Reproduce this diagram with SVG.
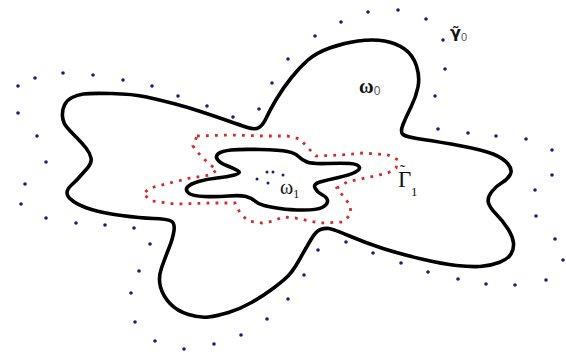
<svg xmlns="http://www.w3.org/2000/svg" width="566" height="362" viewBox="0 0 566 362">
<style>
.curve{fill:none;stroke:#000;stroke-width:3.6;stroke-linejoin:round}
.red{fill:none;stroke:#d42a2a;stroke-width:2.8;stroke-dasharray:2.8 6.2}
.dot{fill:#1c1c78}
.lbl{font-family:"Liberation Serif","Times New Roman",serif;fill:#111}
.sub{font-family:"Liberation Sans",Arial,sans-serif;fill:#555}
</style>
<rect width="566" height="362" fill="#fff"/>
<g id="omega0-boundary">
<path class="curve" d="M64.5,105 Q67,100 72,97.5 Q77,95 83.5,94 Q90,93 111.5,93.5 Q133,94 146.5,97 Q160,100 173.5,103.5 Q187,107 202,112 Q217,117 228.5,121 Q240,125 247.5,127.5 Q255,130 259,127.5 Q263,125 266.5,117.5 Q270,110 276.5,99 Q283,88 291.5,77.5 Q300,67 308,60 Q316,53 329.5,48 Q343,43 358,41 Q373,39 384.5,41 Q396,43 404.5,49 Q413,55 416.5,66 Q420,77 418,87 Q416,97 411,107 Q406,117 403,124.5 Q400,132 403,134.5 Q406,137 423,139.5 Q440,142 461.5,146 Q483,150 493,154 Q503,158 508,164 Q513,170 510,175 Q507,180 501.5,183 Q496,186 491.5,192 Q487,198 488.5,203 Q490,208 496.5,214.5 Q503,221 508,229 Q513,237 513.5,243 Q514,249 511,254 Q508,259 499,262.5 Q490,266 480,266.5 Q470,267 456.5,265.5 Q443,264 421.5,259 Q400,254 383,248.5 Q366,243 349.5,236 Q333,229 329,228.5 Q325,228 320.5,229.5 Q316,231 311,239.5 Q306,248 299.5,259.5 Q293,271 288,276 Q283,281 273,288.5 Q263,296 251.5,302.5 Q240,309 228.5,312.5 Q217,316 208.5,317 Q200,318 188.5,314.5 Q177,311 170,303.5 Q163,296 160.5,287 Q158,278 161.5,268 Q165,258 169,248 Q173,238 174,230.5 Q175,223 171,221 Q167,219 153.5,218.5 Q140,218 121.5,215.5 Q103,213 91.5,209.5 Q80,206 73.5,201.5 Q67,197 67,193 Q67,189 71.5,185 Q76,181 79.5,177 Q83,173 87.5,168 Q92,163 91,158 Q90,153 86,148 Q82,143 77,138 Q72,133 67.5,128 Q63,123 62.5,116.5 Q62,110 64.5,105 Z"/>
</g>
<g id="omega1-boundary">
<path class="curve" d="M217.5,159.5 Q215,156 218.5,153.5 Q222,151 231,150 Q240,149 260,149.5 Q280,150 287.5,151.5 Q295,153 298.5,156.5 Q302,160 307,162 Q312,164 327.5,163.5 Q343,163 350,163.5 Q357,164 359,166.5 Q361,169 355.5,172 Q350,175 338.5,177.5 Q327,180 320,182 Q313,184 315,188 Q317,192 322.5,195 Q328,198 327.5,201.5 Q327,205 322,207.5 Q317,210 303.5,210 Q290,210 280,208.5 Q270,207 264,205.5 Q258,204 255,201 Q252,198 246,196.5 Q240,195 228.5,196 Q217,197 204.5,196.5 Q192,196 188.5,193 Q185,190 187.5,187 Q190,184 198.5,181.5 Q207,179 217,178 Q227,177 234.5,175 Q242,173 237.5,170.5 Q233,168 226.5,165.5 Q220,163 217.5,159.5 Z"/>
</g>
<g id="Gamma1-curve">
<polygon class="red" points="197,136 230,135 263,136 287,136 300,139 308,148 316,156 340,155 363,153 388,155 398,160 396,168 388,173 370,177 347,182 337,188 343,196 350,205 351,214 343,222 320,223 295,218 283,217 273,221 262,223 248,221 240,213 235,203 210,203 175,204 152,201 143,194 150,188 170,183 190,178 210,175 217,170 208,163 200,155 193,146"/>
</g>
<g id="gamma0-dots" class="dot">
<circle cx="18" cy="86" r="1.8"/><circle cx="35" cy="78" r="1.8"/><circle cx="63" cy="73" r="1.8"/><circle cx="93" cy="75" r="1.8"/><circle cx="123" cy="80" r="1.8"/><circle cx="152" cy="86" r="1.8"/><circle cx="178" cy="96" r="1.8"/><circle cx="207" cy="106" r="1.8"/><circle cx="233" cy="117" r="1.8"/><circle cx="259" cy="109" r="1.8"/><circle cx="272" cy="83" r="1.8"/><circle cx="288" cy="59" r="1.8"/><circle cx="315" cy="36" r="1.8"/><circle cx="341" cy="22" r="1.8"/><circle cx="368" cy="12" r="1.8"/><circle cx="398" cy="10" r="1.8"/><circle cx="426" cy="19" r="1.8"/><circle cx="443" cy="40" r="1.8"/><circle cx="445" cy="69" r="1.8"/><circle cx="435" cy="96" r="1.8"/><circle cx="438" cy="129" r="1.8"/><circle cx="468" cy="133" r="1.8"/><circle cx="496" cy="136" r="1.8"/><circle cx="526" cy="139" r="1.8"/><circle cx="552" cy="150" r="1.8"/><circle cx="552" cy="175" r="1.8"/><circle cx="535" cy="190" r="1.8"/><circle cx="536" cy="216" r="1.8"/><circle cx="555" cy="239" r="1.8"/><circle cx="563" cy="260" r="1.8"/><circle cx="546" cy="280" r="1.8"/><circle cx="515" cy="285" r="1.8"/><circle cx="486" cy="284" r="1.8"/><circle cx="458" cy="279" r="1.8"/><circle cx="428" cy="272" r="1.8"/><circle cx="401" cy="263" r="1.8"/><circle cx="373" cy="253" r="1.8"/><circle cx="346" cy="242" r="1.8"/><circle cx="318" cy="250" r="1.8"/><circle cx="304" cy="275" r="1.8"/><circle cx="288" cy="299" r="1.8"/><circle cx="267" cy="319" r="1.8"/><circle cx="241" cy="335" r="1.8"/><circle cx="214" cy="344" r="1.8"/><circle cx="184" cy="349" r="1.8"/><circle cx="155" cy="341" r="1.8"/><circle cx="135" cy="322" r="1.8"/><circle cx="131" cy="293" r="1.8"/><circle cx="139" cy="271" r="1.8"/><circle cx="150" cy="244" r="1.8"/><circle cx="134" cy="228" r="1.8"/><circle cx="105" cy="225" r="1.8"/><circle cx="76" cy="223" r="1.8"/><circle cx="46" cy="218" r="1.8"/><circle cx="21" cy="204" r="1.8"/><circle cx="25" cy="184" r="1.8"/><circle cx="46" cy="162" r="1.8"/><circle cx="37" cy="136" r="1.8"/><circle cx="18" cy="113" r="1.8"/>
<circle cx="267" cy="172" r="1.5"/><circle cx="273" cy="172" r="1.5"/><circle cx="283" cy="175" r="1.5"/><circle cx="257" cy="179" r="1.5"/><circle cx="268" cy="183" r="1.5"/>
</g>
<g id="labels">
<text class="lbl" x="450" y="38" style="font-family:'DejaVu Sans',sans-serif;font-weight:bold;font-size:16px">γ̃<tspan class="sub" style="font-weight:normal;font-size:11px" dy="3">0</tspan></text>
<text class="lbl" x="359" y="93" style="font-weight:bold;font-size:20px">ω<tspan class="sub" style="font-weight:normal;font-size:12px" dy="2">0</tspan></text>
<text class="lbl" x="280" y="194" style="font-size:20px">ω<tspan style="font-size:12px" dy="4">1</tspan></text>
<text class="lbl" style="font-size:23px"><tspan x="400" y="176" style="font-size:16px">˜</tspan><tspan x="398" y="187">Γ</tspan><tspan x="411" y="196" style="font-size:13px">1</tspan></text>
</g>
</svg>
